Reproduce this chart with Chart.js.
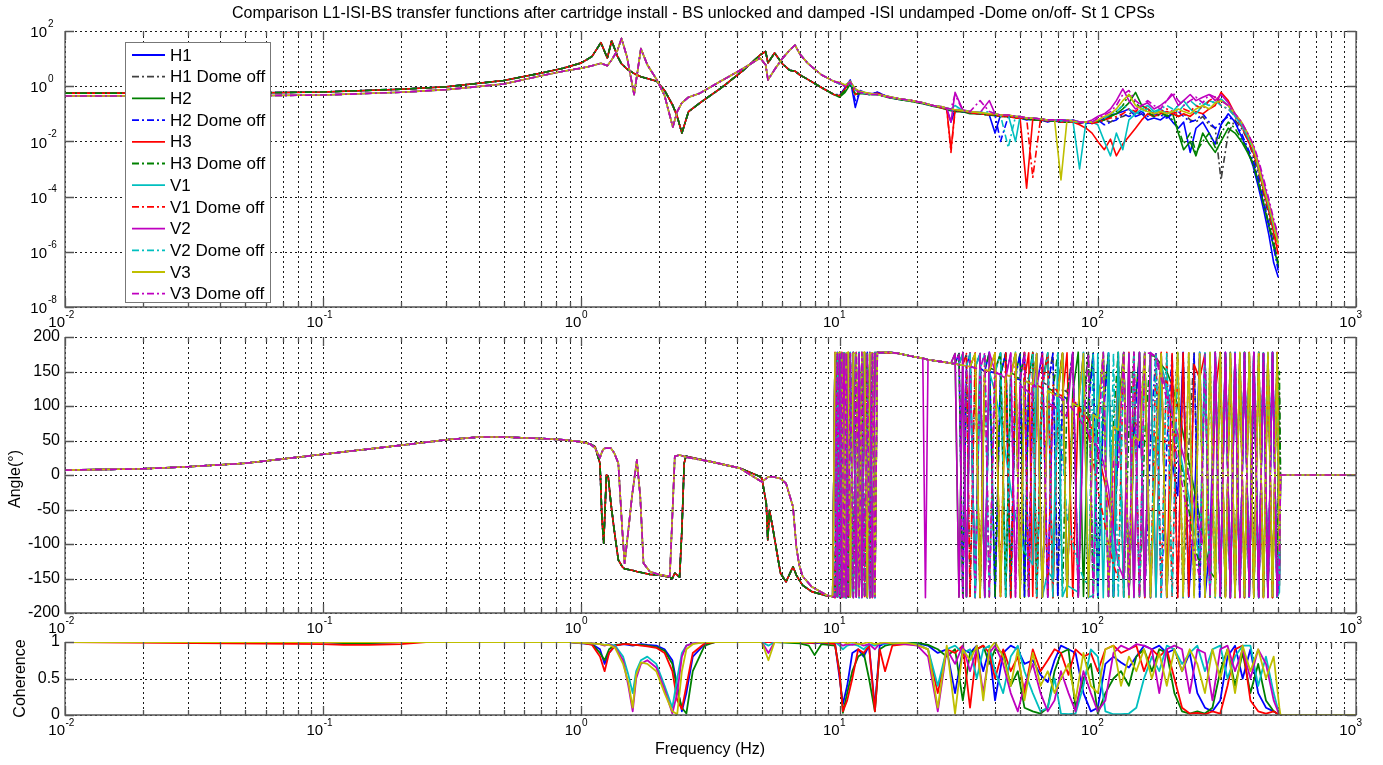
<!DOCTYPE html>
<html>
<head>
<meta charset="utf-8">
<script src="https://cdn.jsdelivr.net/npm/chart.js@4.4.1/dist/chart.umd.min.js"></script>
<style>
  html, body { margin: 0; padding: 0; background: #fff; overflow: hidden; }
  #wrap { position: relative; width: 1383px; height: 765px; }
  canvas { position: absolute; left: 0; top: 0; }
</style>
</head>
<body>
<div id="wrap">
  <canvas id="magChart" width="1383" height="765"></canvas>
  <canvas id="phaseChart" width="1383" height="765"></canvas>
  <canvas id="cohChart" width="1383" height="765"></canvas>
</div>
<script>
// ---- series ----
const seriesNames = ['H1', 'H1 Dome off', 'H2', 'H2 Dome off', 'H3', 'H3 Dome off',
                     'V1', 'V1 Dome off', 'V2', 'V2 Dome off', 'V3', 'V3 Dome off'];
const seriesFamily = ['H', 'H', 'H', 'H', 'H', 'H', 'V', 'V', 'V', 'V', 'V', 'V'];

// ---- magnitude, below 10 Hz (H and V groups) ----
const freqMagLo = [0.01, 0.05, 0.1, 0.2, 0.3, 0.5, 0.7, 0.85, 1.0, 1.1, 1.19, 1.26, 1.31, 1.38, 1.43,
  1.5, 1.6, 1.7, 1.8, 1.96, 2.1, 2.26, 2.35, 2.45, 2.6, 2.88, 3.5, 4.2, 4.92, 5.17, 5.28, 5.6, 6.0,
  6.4, 6.72, 7.0, 7.5, 8.5, 9.5];
const magLoH = [0.56, 0.57, 0.62, 0.78, 0.95, 1.6, 3.0, 4.5, 7.0, 12, 38, 10.5, 44, 12, 6.5,
  4.2, 2.9, 2.2, 1.9, 1.5, 0.7, 0.2, 0.08, 0.02, 0.12, 0.25, 0.9, 3.5, 13.5, 18, 7, 16, 6.5,
  3.8, 3.5, 2.6, 1.8, 0.9, 0.5];
const magLoV = [0.44, 0.45, 0.48, 0.6, 0.75, 1.2, 2.4, 3.5, 4.5, 5.5, 6.8, 5.5, 9, 20, 54,
  12, 0.5, 23, 6, 1.7, 0.45, 0.033, 0.12, 0.25, 0.4, 0.56, 1.6, 4.2, 10.5, 6, 1.7, 4, 10,
  20, 31, 15, 7, 2.6, 1.5];

// ---- magnitude, 10 Hz and up (one per series) ----
const freqMagHi = [10, 10.5, 11, 11.5, 12, 13, 14, 15.5, 17, 19, 21, 23, 25, 26, 27, 28, 30, 32, 35, 38,
  40, 42, 45, 48, 50, 53, 56, 60, 64, 68, 72, 76, 80, 85, 90, 95, 100, 106, 112, 118,
  125, 132, 140, 148, 156, 165, 175, 185, 195, 205, 215, 228, 240, 255, 270, 285, 300, 320, 340, 360,
  380, 400, 420, 440, 460, 480, 500];
const magHiH1 = [0.45, 0.9, 1.7, 0.17, 0.7, 0.5, 0.6, 0.4, 0.33, 0.3, 0.24, 0.2, 0.17, 0.15, 0.05,
  0.14, 0.12, 0.11, 0.1, 0.09, 0.02, 0.09, 0.08, 0.075, 0.07, 0.06, 0.065, 0.06, 0.05, 0.06,
  0.055, 0.05, 0.06, 0.05, 0.05, 0.045, 0.05, 0.07, 0.09, 0.1, 0.12, 0.15, 0.08, 0.1, 0.06,
  0.07, 0.06, 0.09, 0.05, 0.03, 0.05, 0.004, 0.03, 0.05, 0.02, 0.008, 0.04, 0.1, 0.05, 0.015,
  0.005, 0.0012, 0.0002, 0.00003, 0.000004, 0.0000004, 0.00000012];
const magHiH1off = [0.45, 0.7, 1.3, 0.5, 0.6, 0.5, 0.55, 0.42, 0.35, 0.3, 0.25, 0.2, 0.17, 0.16, 0.15,
  0.13, 0.12, 0.11, 0.1, 0.1, 0.09, 0.08, 0.085, 0.08, 0.07, 0.07, 0.06, 0.065, 0.06, 0.055,
  0.06, 0.05, 0.05, 0.045, 0.05, 0.05, 0.05, 0.06, 0.05, 0.07, 0.08, 0.1, 0.12, 0.09, 0.1,
  0.08, 0.09, 0.1, 0.12, 0.08, 0.1, 0.06, 0.05, 0.08, 0.04, 0.03, 0.0004, 0.02, 0.06, 0.03,
  0.012, 0.003, 0.0006, 0.0001, 0.00002, 0.000003, 0.0000003];
const magHiH2 = [0.4, 0.6, 1.2, 0.5, 0.55, 0.5, 0.5, 0.38, 0.33, 0.28, 0.23, 0.19, 0.16, 0.14, 0.13,
  0.12, 0.12, 0.1, 0.1, 0.09, 0.085, 0.08, 0.08, 0.075, 0.07, 0.065, 0.06, 0.06, 0.06, 0.055,
  0.06, 0.06, 0.05, 0.05, 0.05, 0.05, 0.05, 0.06, 0.08, 0.1, 0.15, 0.25, 0.6, 0.2, 0.15,
  0.1, 0.12, 0.08, 0.1, 0.02, 0.005, 0.01, 0.003, 0.02, 0.008, 0.004, 0.01, 0.03, 0.02, 0.01,
  0.004, 0.0015, 0.0003, 0.00005, 0.000008, 0.0000015, 0.0000003];
const magHiH2off = [0.5, 0.8, 1.5, 0.3, 0.6, 0.5, 0.6, 0.4, 0.34, 0.3, 0.24, 0.2, 0.18, 0.15, 0.14,
  0.13, 0.12, 0.11, 0.1, 0.1, 0.09, 0.01, 0.08, 0.08, 0.07, 0.07, 0.065, 0.06, 0.06, 0.055,
  0.05, 0.055, 0.05, 0.05, 0.045, 0.05, 0.06, 0.04, 0.05, 0.06, 0.1, 0.08, 0.1, 0.12, 0.08,
  0.1, 0.09, 0.07, 0.1, 0.12, 0.08, 0.05, 0.06, 0.1, 0.05, 0.03, 0.05, 0.08, 0.05, 0.02,
  0.006, 0.002, 0.0004, 0.00006, 0.00001, 0.0000015, 0.0000002];
const magHiH3 = [0.45, 0.8, 1.5, 0.5, 0.6, 0.5, 0.55, 0.4, 0.35, 0.3, 0.25, 0.2, 0.16, 0.15, 0.005,
  0.14, 0.13, 0.11, 0.1, 0.09, 0.09, 0.08, 0.08, 0.07, 0.07, 0.0002, 0.065, 0.06, 0.055, 0.06,
  0.05, 0.05, 0.05, 0.04, 0.03, 0.02, 0.01, 0.005, 0.012, 0.003, 0.008, 0.015, 0.03, 0.06, 0.1,
  0.08, 0.1, 0.12, 0.1, 0.08, 0.1, 0.08, 0.12, 0.1, 0.15, 0.2, 0.6, 0.3, 0.1, 0.04,
  0.012, 0.004, 0.001, 0.00015, 0.00003, 0.000005, 0.0000008];
const magHiH3off = [0.45, 0.7, 1.3, 0.5, 0.6, 0.5, 0.5, 0.4, 0.33, 0.28, 0.24, 0.19, 0.17, 0.15, 0.14,
  0.13, 0.12, 0.11, 0.1, 0.09, 0.09, 0.08, 0.08, 0.075, 0.07, 0.065, 0.06, 0.06, 0.055, 0.055,
  0.05, 0.05, 0.055, 0.05, 0.05, 0.05, 0.055, 0.06, 0.08, 0.12, 0.2, 0.5, 0.25, 0.15, 0.12,
  0.08, 0.1, 0.09, 0.06, 0.03, 0.008, 0.02, 0.004, 0.01, 0.02, 0.006, 0.02, 0.05, 0.03, 0.012,
  0.005, 0.0015, 0.0003, 0.00005, 0.00001, 0.000002, 0.0000004];
const magHiV1 = [1.3, 1.1, 1.5, 0.8, 0.6, 0.55, 0.5, 0.42, 0.35, 0.3, 0.25, 0.2, 0.18, 0.16, 0.15,
  0.2, 0.13, 0.12, 0.11, 0.1, 0.1, 0.09, 0.09, 0.01, 0.08, 0.07, 0.07, 0.065, 0.06, 0.06,
  0.06, 0.055, 0.06, 0.001, 0.05, 0.05, 0.04, 0.01, 0.003, 0.02, 0.005, 0.06, 0.1, 0.15, 0.2,
  0.12, 0.15, 0.1, 0.12, 0.2, 0.3, 0.15, 0.1, 0.2, 0.3, 0.25, 0.35, 0.2, 0.08, 0.04,
  0.015, 0.006, 0.0012, 0.0002, 0.00004, 0.000008, 0.000002];
const magHiV1off = [1.2, 1.0, 1.4, 0.7, 0.6, 0.55, 0.5, 0.4, 0.35, 0.3, 0.25, 0.2, 0.17, 0.16, 0.004,
  0.13, 0.13, 0.11, 0.1, 0.1, 0.09, 0.09, 0.08, 0.08, 0.07, 0.07, 0.0005, 0.065, 0.06, 0.06,
  0.055, 0.06, 0.05, 0.05, 0.05, 0.045, 0.05, 0.06, 0.07, 0.08, 0.1, 0.15, 0.12, 0.2, 0.15,
  0.1, 0.12, 0.15, 0.12, 0.1, 0.15, 0.12, 0.2, 0.15, 0.3, 0.4, 0.2, 0.15, 0.08, 0.035,
  0.012, 0.004, 0.0009, 0.00015, 0.00003, 0.000006, 0.0000015];
const magHiV2 = [1.3, 1.0, 1.4, 0.8, 0.6, 0.55, 0.5, 0.42, 0.35, 0.3, 0.25, 0.2, 0.18, 0.16, 0.05,
  0.6, 0.14, 0.12, 0.11, 0.3, 0.1, 0.09, 0.09, 0.08, 0.08, 0.07, 0.07, 0.065, 0.06, 0.06,
  0.06, 0.06, 0.055, 0.05, 0.05, 0.06, 0.08, 0.1, 0.15, 0.3, 0.8, 0.3, 0.15, 0.2, 0.25,
  0.15, 0.2, 0.3, 0.5, 0.2, 0.3, 0.5, 0.3, 0.4, 0.5, 0.3, 0.5, 0.25, 0.1, 0.05,
  0.02, 0.007, 0.0015, 0.0003, 0.00006, 0.000012, 0.000003];
const magHiV2off = [1.2, 1.1, 1.3, 0.7, 0.6, 0.5, 0.5, 0.4, 0.35, 0.3, 0.25, 0.2, 0.17, 0.16, 0.14,
  0.15, 0.13, 0.12, 0.11, 0.12, 0.1, 0.09, 0.006, 0.08, 0.08, 0.07, 0.07, 0.065, 0.06, 0.06,
  0.055, 0.06, 0.05, 0.05, 0.05, 0.05, 0.06, 0.07, 0.1, 0.12, 0.2, 0.15, 0.1, 0.12, 0.15,
  0.1, 0.15, 0.2, 0.15, 0.12, 0.2, 0.3, 0.2, 0.25, 0.2, 0.3, 0.2, 0.15, 0.08, 0.04,
  0.015, 0.005, 0.001, 0.0002, 0.00004, 0.000008, 0.000002];
const magHiV3 = [1.4, 1.1, 1.5, 0.8, 0.65, 0.55, 0.5, 0.42, 0.35, 0.3, 0.25, 0.2, 0.18, 0.16, 0.15,
  0.14, 0.13, 0.12, 0.11, 0.1, 0.1, 0.09, 0.09, 0.08, 0.08, 0.07, 0.07, 0.065, 0.06, 0.06,
  0.0004, 0.06, 0.055, 0.05, 0.05, 0.05, 0.06, 0.08, 0.1, 0.15, 0.3, 0.5, 0.2, 0.15, 0.12,
  0.1, 0.12, 0.1, 0.12, 0.15, 0.12, 0.1, 0.15, 0.2, 0.15, 0.25, 0.3, 0.2, 0.1, 0.05,
  0.02, 0.006, 0.0012, 0.0002, 0.00005, 0.00001, 0.000002];
const magHiV3off = [1.3, 1.0, 1.4, 0.7, 0.6, 0.5, 0.5, 0.4, 0.35, 0.3, 0.25, 0.2, 0.17, 0.16, 0.15,
  0.5, 0.13, 0.12, 0.3, 0.12, 0.1, 0.09, 0.09, 0.08, 0.08, 0.07, 0.07, 0.065, 0.06, 0.06,
  0.06, 0.055, 0.06, 0.05, 0.05, 0.05, 0.07, 0.09, 0.12, 0.2, 0.5, 0.7, 0.3, 0.2, 0.3,
  0.2, 0.15, 0.3, 0.6, 0.3, 0.2, 0.3, 0.4, 0.25, 0.5, 0.4, 0.3, 0.2, 0.1, 0.05,
  0.02, 0.008, 0.002, 0.0004, 0.00008, 0.000015, 0.000004];

// ---- phase, below 10 Hz (H and V groups) ----
const freqPhLo = [0.01, 0.02, 0.03, 0.05, 0.1, 0.2, 0.3, 0.4, 0.5, 0.69, 0.85, 1.0, 1.08, 1.13, 1.18,
  1.2, 1.22, 1.25, 1.27, 1.3, 1.34, 1.39, 1.44, 1.47, 1.52, 1.57, 1.64, 1.69, 1.74, 1.84,
  1.98, 2.2, 2.25, 2.3, 2.4, 2.45, 2.5, 2.54, 3.2, 4.1, 4.9, 5.0, 5.2, 5.27, 5.35,
  5.5, 5.9, 6.2, 6.6, 6.8, 6.97, 7.2, 7.8, 8.9, 9.4];
const phLoH = [7, 9, 12, 17, 30, 43, 51, 55, 55, 53, 51, 48, 45, 41, 17,
  -60, -99, 0, -2, -40, -80, -123, -133, -136, -137, -138, -140, -141, -142, -144,
  -145, -148, -150, -142, -148, -80, 17, 27, 19, 10, -2, -5, -41, -94, -51,
  -75, -142, -155, -133, -145, -152, -160, -169, -175, -176];
const phLoV = [7, 9, 12, 17, 30, 43, 51, 55, 55, 53, 51, 48, 45, 39, 25,
  33, 38, 39, 39, 39, 32, 17, -80, -128, -80, -31, 22, -31, -128, -140,
  -144, -147, -60, 27, 29, 28, 27, 26, 19, 10, -8, -10, -5, -3, -2.5,
  -2.5, -5, -12, -46, -104, -130, -147, -162, -174, -176];

// ---- phase, from 9.6 Hz up (one per series) ----
const freqPhHi = [9.6, 9.8, 10.0, 10.2, 10.4, 10.6, 10.8, 11.0, 11.3, 11.6, 11.9, 12.2, 12.5, 12.8, 13.1,
  13.4, 13.7, 14.0, 14.3, 15.5, 17, 19, 21, 21.5, 22, 23, 24, 25, 26, 27,
  28, 29, 30, 31, 32, 33.5, 35, 36.5, 38, 40, 42, 44, 46, 48, 50,
  52, 54, 56, 58, 61, 64, 67, 70, 73, 76, 80, 84, 88, 92, 96,
  100, 105, 110, 115, 120, 126, 132, 138, 145, 152, 160, 168, 176, 185, 194,
  204, 214, 225, 236, 248, 260, 272, 285, 298, 312, 326, 340, 355, 370, 386,
  402, 420, 438, 456, 475, 495, 505, 510, 1000];
const phHiH1 = [177, -176, 178, -177, 176, -178, 177, -175, 176, -177, 178, -176, 177, -178, 176,
  -177, 176, 178, 177, 178, 176, 172, 169, 168, 167, 166, 165, 164, 163, 162,
  161, 176, -177, 158, 176, -176, 155, 150, 178, -177, 145, 176, -178, 140, 138,
  177, -176, 132, 128, 178, -177, 120, 115, 176, -175, 105, 100, 177, -178, 90,
  85, 176, -176, 70, 60, 177, -177, 50, 40, 178, -176, 30, 176, -178, 20,
  -30, 177, -176, -60, 178, -177, -100, 176, -178, 177, -176, 178, -175, 176, -177,
  177, -178, 176, -176, 178, -177, -150, 0, 0];
const phHiH1off = [-176, 177, -178, 176, -177, 178, -176, 177, -175, 176, -177, 178, -176, 177, -178,
  176, -177, 177, 178, 178, 176, 172, 169, 168, 167, 166, 165, 164, 163, 162,
  161, 160, 159, 176, -177, 156, 176, -176, 152, 150, 176, -177, 146, 177, -176,
  142, 140, 176, -178, 135, 130, 177, -176, 125, 120, 176, -177, 110, 178, -176,
  100, 95, 176, -177, 85, 178, -176, 75, 70, 177, -178, 60, 176, -177, 50,
  178, -176, 40, 177, -178, 176, -177, 178, -176, 177, -178, 176, -177, 178, -176,
  177, -178, 176, -177, 178, -176, 120, 0, 0];
const phHiH2 = [176, -177, 178, -176, 177, -178, 176, -177, 178, -176, 177, -175, 176, -178, 177,
  -176, 178, 176, 177, 178, 176, 172, 169, 168, 167, 166, 165, 164, 163, 162,
  176, -177, 178, -176, 177, -178, 176, -177, 155, 152, 177, -176, 148, 145, 176,
  -177, 140, 178, -176, 135, 177, -178, 128, 176, -177, 120, 178, -176, 110, 177,
  -178, 100, 176, -177, 90, 177, -176, 80, 178, -177, 176, 170, 160, 150, 130,
  100, 60, 20, -20, -60, -100, -140, -150, 177, -176, 178, -177, 176, -178, 177,
  -176, 178, -177, 176, -178, 177, -140, 0, 0];
const phHiH2off = [-177, 178, -176, 177, -178, 176, -177, 178, -176, 177, -178, 176, -177, 178, -176,
  177, -178, 176, 178, 178, 176, 172, 169, 168, 167, 166, 165, 164, 163, 162,
  161, 160, 176, -176, 158, 155, 176, -177, 150, 148, 145, 177, -176, 140, 176,
  -178, 135, 130, 177, -176, 125, 176, -177, 115, 110, 178, -176, 100, 95, 176,
  -177, 85, 177, -178, 70, 176, -177, 60, 177, -176, 50, 178, -177, 40, 176,
  -176, 178, -177, 177, -178, 176, -176, 177, -177, 178, -178, 176, -176, 177, -177,
  178, -176, 177, -178, 176, -177, -100, 0, 0];
const phHiH3 = [178, -176, 177, -178, 176, -177, 178, -176, 177, -175, 176, -177, 178, -176, 177,
  -178, 176, 177, 178, 177, 176, 172, 169, 168, 167, 166, 165, 164, 163, 162,
  161, 160, 176, -177, 157, 176, -178, 152, 150, 177, -176, 145, 143, 176, -177,
  138, 177, -176, 130, 126, 176, -178, 118, 114, 177, -176, 100, 90, 80, 60,
  30, 0, -40, -80, 177, -176, 178, -177, 176, -178, 177, -176, 178, -177, 176,
  -178, 177, -176, 160, 140, 176, -177, 120, 178, -176, 177, -178, 176, -177, 178,
  -176, 177, -178, 176, -177, 178, -160, 0, 0];
const phHiH3off = [-177, 176, -178, 177, -176, 178, -177, 176, -178, 177, -176, 178, -177, 176, -178,
  177, -176, 178, 177, 178, 176, 172, 169, 168, 167, 166, 165, 164, 163, 162,
  161, 176, -176, 159, 157, 176, -177, 153, 177, -178, 147, 176, -177, 142, 140,
  177, -176, 134, 176, -178, 126, 122, 177, -176, 112, 176, -177, 102, 177, -178,
  92, 176, -176, 80, 178, -177, 68, 176, -178, 58, 176, 165, 150, 120, 80,
  40, 0, -50, -100, -130, 177, -176, 178, -177, 176, -178, 177, -176, 178, -177,
  176, -178, 177, -176, 178, -177, 150, 0, 0];
const phHiV1 = [176, -177, 178, -176, 177, -178, 176, -177, 178, -176, 177, -178, 176, -177, 178,
  -176, 177, 176, 178, 178, 176, 172, 169, 168, 167, 166, 165, 164, 163, 162,
  161, 160, 176, -177, 157, 155, 176, -178, 150, 120, 80, 30, -20, -60, -90,
  -110, -120, -130, 176, -177, -140, -150, 177, -176, -160, -165, -170, 178, -177, -175,
  176, -178, 177, -176, 178, -177, 176, -178, 177, -176, 178, -177, 160, 130, 90,
  50, 10, -30, -80, -120, 177, -176, 178, -177, 176, -178, 177, -176, 178, -177,
  176, -178, 177, -176, 178, -177, -170, 0, 0];
const phHiV1off = [-178, 177, -176, 178, -177, 176, -178, 177, -176, 178, -177, 176, -178, 177, -176,
  178, -177, 178, 177, 178, 176, 172, 169, 168, 167, 166, 165, 164, 163, 162,
  161, 160, 159, 176, -177, 177, -178, 176, -177, 178, -176, 177, -178, 176, -177,
  178, -176, 177, -178, 176, -177, 130, 120, 178, -176, 110, 100, 80, 60, 20,
  -20, -60, -100, -130, -150, 177, -176, 178, -177, 176, -178, 177, -176, 178, -177,
  176, -178, 177, -176, 178, -177, 176, -178, 177, -176, 178, -177, 176, -178, 177,
  -176, 178, -177, 176, -178, 177, -130, 0, 0];
const phHiV2 = [177, -176, 178, -177, 176, -178, 177, -176, 178, -177, 176, -178, 177, -176, 178,
  -177, 176, 177, 178, 178, 176, 172, 169, -178, 167, 166, 165, 164, 163, 162,
  176, -177, 178, -176, 177, -178, 176, -177, 178, 150, 145, 140, 177, -176, 130,
  125, 120, 115, 176, -177, 105, 100, 95, 90, 85, 178, -177, 75, 60, 50,
  40, 20, -20, -80, -130, -150, 176, -177, 178, -176, 177, 172, 150, 120, 90,
  60, 30, 0, -40, -80, -110, -140, 177, -176, 178, -177, 176, -178, 177, -176,
  178, -177, 176, -178, 177, -176, -100, 0, 0];
const phHiV2off = [-176, 178, -177, 176, -178, 177, -176, 178, -177, 176, -178, 177, -176, 178, -177,
  176, -178, 178, 177, 178, 176, 172, 169, 168, 167, 166, 165, 164, 163, 162,
  161, 160, 159, 158, 176, -177, 154, 176, -178, 148, 177, -176, 142, 178, -177,
  136, 133, 176, -176, 125, 177, -178, 115, 30, -60, -100, -130, -150, -160, 176,
  -177, 178, -176, 177, -178, 176, -177, 178, -176, 177, -178, 176, -177, 178, -176,
  177, -178, 176, -177, 178, -176, 177, -178, 176, -177, 178, -176, 177, -178, 176,
  -177, 178, -176, 177, -178, 176, -160, 0, 0];
const phHiV3 = [177, 176, 178, 177, -176, 176, 178, -177, 176, 177, -176, 177, 178, -177, 176,
  177, -176, 177, 178, 178, 176, 172, 169, 168, 167, 166, 165, 164, 163, 162,
  161, 160, 159, 158, 157, 176, -177, 153, 151, 177, -176, 145, 143, 177, -178,
  137, 134, 130, 176, -177, 122, 118, 114, 177, -176, 104, 99, 176, -177, 88,
  82, 177, -176, 70, 65, 176, -178, 55, 50, 177, -176, 40, 176, -177, 30,
  178, -176, 177, -178, 176, -177, 178, -176, 177, -178, 176, -177, 178, -176, 177,
  -178, 176, -177, 178, -176, 177, -110, 0, 0];
const phHiV3off = [-177, 176, -178, 177, -176, 178, -177, 176, -178, 177, -176, 178, -177, 176, -178,
  177, -176, 178, 177, 178, 176, 172, 169, 168, 167, 166, 165, 164, 163, 162,
  161, 176, -178, 158, 157, 155, 153, 177, -176, 148, 146, 144, 176, -177, 138,
  178, -176, 130, 127, 176, -177, 118, 115, 110, 105, 95, 85, 70, 176, -177,
  40, 178, -176, 20, 10, 177, -176, 178, -177, 176, 177, 168, 140, 110, 70,
  20, -20, -70, -110, -150, 176, -177, 178, -176, 177, -178, 176, -177, 178, -176,
  177, -178, 176, -177, 178, -176, -150, 0, 0];

// ---- coherence ----
const freqCoh = [0.01, 0.1, 0.12, 0.15, 0.2, 0.25, 0.5, 0.9, 1.0, 1.1, 1.18, 1.23, 1.28, 1.35, 1.45,
  1.52, 1.58, 1.63, 1.7, 1.8, 1.95, 2.1, 2.25, 2.35, 2.45, 2.55, 2.7, 3.0, 3.3, 5.0,
  5.3, 5.6, 7.0, 7.6, 8.0, 8.5, 9.6,
  10.0, 10.3, 10.7, 11.2, 11.8, 12.4, 13.0, 13.7, 14.3, 15, 16, 18, 20, 22, 24,
  26, 28, 30, 32, 34, 36, 38, 40, 43, 46, 49, 52, 56, 60, 64,
  68, 72, 77, 82, 88, 94, 100, 107, 115, 123, 132, 141, 151, 162, 173,
  185, 198, 212, 227, 243, 260, 278, 298, 318, 340, 364, 390, 418, 448, 480,
  505, 510, 1000];
const cohH1 = [1, 1, 0.99, 0.99, 1, 1, 1, 1, 0.98, 0.97, 0.9, 0.7, 0.85, 0.95, 0.97,
  0.96, 0.95, 0.96, 0.97, 0.96, 0.95, 0.9, 0.75, 0.4, 0.05, 0.3, 0.8, 0.97, 1, 1,
  1, 1, 1, 0.99, 0.98, 0.99, 0.98,
  0.5, 0.15, 0.4, 0.85, 0.9, 0.8, 0.95, 0.1, 0.95, 0.98, 0.97, 0.99, 0.98, 0.95, 0.85,
  0.9, 0.3, 0.9, 0.85, 0.95, 0.6, 0.9, 0.2, 0.85, 0.95, 0.9, 0.7, 0.75, 0.55, 0.45,
  0.75, 0.95, 0.9, 0.85, 0.3, 0.05, 0.1, 0.7, 0.8, 0.72, 0.65, 0.8, 0.95, 0.9, 0.95,
  0.85, 0.9, 0.6, 0.85, 0.3, 0.1, 0.05, 0.2, 0.8, 0.95, 0.5, 0.9, 0.3, 0.1, 0.05,
  0, 0, 0];
const cohH2 = [1, 1, 0.985, 0.985, 1, 1, 1, 1, 0.99, 0.97, 0.85, 0.75, 0.9, 0.96, 0.97,
  0.97, 0.96, 0.96, 0.96, 0.95, 0.93, 0.88, 0.7, 0.35, 0.1, 0.02, 0.6, 0.95, 1, 1,
  1, 1, 0.98, 0.95, 0.82, 0.97, 0.95,
  0.6, 0.03, 0.3, 0.6, 0.8, 0.85, 0.5, 0.05, 0.9, 0.95, 0.97, 0.98, 0.99, 0.96, 0.9,
  0.8, 0.9, 0.2, 0.85, 0.9, 0.95, 0.7, 0.9, 0.85, 0.4, 0.6, 0.1, 0.05, 0.02, 0.1,
  0.6, 0.85, 0.9, 0.1, 0.5, 0.7, 0.02, 0.3, 0.5, 0.6, 0.4, 0.8, 0.9, 0.6, 0.9,
  0.85, 0.3, 0.05, 0.02, 0.05, 0.02, 0.1, 0.6, 0.9, 0.4, 0.85, 0.3, 0.7, 0.2, 0.05,
  0, 0, 0];
const cohH3 = [1, 0.97, 0.96, 0.96, 0.97, 1, 1, 1, 0.99, 0.96, 0.8, 0.6, 0.85, 0.95, 0.97,
  0.97, 0.96, 0.96, 0.95, 0.94, 0.92, 0.85, 0.6, 0.2, 0.08, 0.4, 0.85, 0.98, 1, 1,
  1, 1, 1, 0.99, 0.99, 1, 0.97,
  0.55, 0.05, 0.2, 0.5, 0.9, 0.85, 0.95, 0.05, 0.9, 0.6, 0.95, 0.97, 0.96, 0.9, 0.3,
  0.9, 0.85, 0.95, 0.1, 0.9, 0.95, 0.85, 0.5, 0.9, 0.6, 0.8, 0.3, 0.9, 0.6, 0.75,
  0.9, 0.85, 0.55, 0.9, 0.8, 0.85, 0.6, 0.9, 0.95, 0.85, 0.9, 0.95, 0.6, 0.9, 0.8,
  0.9, 0.5, 0.1, 0.02, 0.03, 0.01, 0.05, 0.02, 0.4, 0.9, 0.95, 0.2, 0.05, 0.02, 0.05,
  0, 0, 0];
const cohV1 = [1, 1, 1, 1, 1, 1, 1, 1, 0.99, 0.98, 0.97, 0.96, 0.97, 0.95, 0.8,
  0.55, 0.3, 0.6, 0.75, 0.8, 0.7, 0.4, 0.1, 0.5, 0.85, 0.95, 0.98, 1, 1, 1,
  0.95, 1, 1, 1, 1, 1, 1,
  0.95, 0.9, 0.95, 0.97, 0.95, 0.9, 0.97, 0.95, 0.98, 0.97, 0.99, 0.98, 0.97, 0.9, 0.4,
  0.9, 0.95, 0.85, 0.9, 0.5, 0.9, 0.95, 0.6, 0.3, 0.8, 0.95, 0.6, 0.3, 0.05, 0.1,
  0.5, 0.02, 0.01, 0.02, 0.4, 0.9, 0.8, 0.05, 0.01, 0.01, 0.02, 0.1, 0.5, 0.8, 0.6,
  0.95, 0.9, 0.7, 0.85, 0.95, 0.6, 0.9, 0.95, 0.5, 0.8, 0.95, 0.95, 0.4, 0.8, 0.3,
  0, 0, 0];
const cohV2 = [1, 1, 1, 1, 1, 1, 1, 1, 0.99, 0.98, 0.97, 0.95, 0.97, 0.93, 0.75,
  0.4, 0.05, 0.5, 0.7, 0.75, 0.65, 0.35, 0.02, 0.3, 0.8, 0.95, 0.98, 1, 1, 1,
  0.85, 1, 1, 1, 1, 1, 1,
  0.98, 0.95, 0.97, 0.96, 0.98, 0.95, 0.97, 0.9, 0.98, 0.99, 0.98, 0.97, 0.95, 0.8, 0.05,
  0.9, 0.7, 0.95, 0.6, 0.9, 0.3, 0.85, 0.95, 0.7, 0.3, 0.05, 0.4, 0.7, 0.3, 0.05,
  0.2, 0.6, 0.3, 0.05, 0.6, 0.3, 0.05, 0.2, 0.85, 0.95, 0.9, 0.97, 0.95, 0.9, 0.3,
  0.9, 0.95, 0.9, 0.3, 0.9, 0.85, 0.2, 0.9, 0.95, 0.6, 0.9, 0.5, 0.9, 0.7, 0.2,
  0, 0, 0];
const cohV3 = [1, 1, 1, 1, 1, 1, 1, 1, 0.99, 0.98, 0.97, 0.96, 0.96, 0.92, 0.7,
  0.45, 0.1, 0.55, 0.72, 0.7, 0.6, 0.3, 0.05, 0.01, 0.6, 0.9, 0.97, 1, 1, 1,
  0.75, 1, 1, 1, 1, 1, 1,
  1, 1, 0.98, 1, 0.97, 0.98, 1, 0.97, 0.98, 1, 0.98, 0.99, 0.96, 0.9, 0.1,
  0.95, 0.02, 0.9, 0.75, 0.95, 0.2, 0.9, 1, 0.8, 0.4, 0.9, 0.2, 0.85, 0.4, 0.6,
  0.3, 0.5, 0.7, 0.2, 0.85, 0.4, 0.3, 0.9, 0.95, 0.4, 0.8, 0.6, 0.9, 0.5, 0.85,
  0.4, 0.9, 0.6, 0.9, 0.7, 0.3, 0.9, 0.5, 0.9, 0.3, 0.95, 0.6, 0.9, 0.5, 0.8,
  0.1, 0, 0];

// ---- styles ----
const DASHDOT = [7, 3, 2, 3];
const seriesStyle = [
  { color: '#0000ff', dash: [] },
  { color: '#404040', dash: DASHDOT },
  { color: '#008000', dash: [] },
  { color: '#0000ff', dash: DASHDOT },
  { color: '#ff0000', dash: [] },
  { color: '#008000', dash: DASHDOT },
  { color: '#00bfbf', dash: [] },
  { color: '#ff0000', dash: DASHDOT },
  { color: '#bf00bf', dash: [] },
  { color: '#00bfbf', dash: DASHDOT },
  { color: '#bfbf00', dash: [] },
  { color: '#bf00bf', dash: DASHDOT }
];
const cohColors = ['#0000ff', '#008000', '#ff0000', '#00bfbf', '#bf00bf', '#bfbf00'];

const FONT = '"Liberation Sans", Arial, Helvetica, sans-serif';
const TITLE = 'Comparison L1-ISI-BS transfer functions after cartridge install - BS unlocked and damped -ISI undamped -Dome on/off- St 1 CPSs';

// log x grid: 1..9 in every decade
function xGridValues() {
  const v = [];
  for (let e = -2; e < 3; e++) {
    for (let m = 1; m < 10; m++) v.push(m * Math.pow(10, e));
  }
  v.push(1000);
  return v;
}

const pts = (f, v) => f.map((fx, i) => ({ x: fx, y: v[i] }));

// MATLAB style grid, box, ticks and labels
const matlabAxes = {
  id: 'matlabAxes',
  beforeDatasetsDraw(chart, args, o) {
    const { ctx, chartArea: a, scales: { x, y } } = chart;
    ctx.save();
    ctx.strokeStyle = '#1a1a1a';
    ctx.lineWidth = 1;
    ctx.setLineDash([2, 3]);
    ctx.beginPath();
    xGridValues().forEach(v => {
      const px = Math.round(x.getPixelForValue(v)) + 0.5;
      ctx.moveTo(px, a.top); ctx.lineTo(px, a.bottom);
    });
    o.yTicks.forEach(v => {
      const py = Math.round(y.getPixelForValue(v)) + 0.5;
      ctx.moveTo(a.left, py); ctx.lineTo(a.right, py);
    });
    ctx.stroke();
    ctx.restore();
  },
  afterDatasetsDraw(chart, args, o) {
    const { ctx, chartArea: a, scales: { x, y } } = chart;
    ctx.save();
    ctx.strokeStyle = '#555';
    ctx.lineWidth = 1.3;
    ctx.beginPath();
    ctx.moveTo(a.left, a.top); ctx.lineTo(a.left, a.bottom);
    ctx.lineTo(a.right, a.bottom); ctx.lineTo(a.right, a.top);
    // x ticks, top and bottom, pointing in
    xGridValues().forEach((v, i) => {
      const px = Math.round(x.getPixelForValue(v)) + 0.5;
      const len = (i % 9 === 0) ? 9 : 5;
      ctx.moveTo(px, a.bottom); ctx.lineTo(px, a.bottom - len);
      ctx.moveTo(px, a.top); ctx.lineTo(px, a.top + len);
    });
    o.yTicks.forEach(v => {
      const py = Math.round(y.getPixelForValue(v)) + 0.5;
      ctx.moveTo(a.left, py); ctx.lineTo(a.left + 9, py);
      ctx.moveTo(a.right, py); ctx.lineTo(a.right - 9, py);
    });
    ctx.stroke();
    ctx.restore();
  },
  afterDraw(chart, args, o) {
    const { ctx, chartArea: a, scales: { x, y } } = chart;
    ctx.save();
    ctx.fillStyle = '#000';
    ctx.textBaseline = 'middle';
    // x tick labels 10^n
    for (let e = -2; e <= 3; e++) {
      const px = x.getPixelForValue(Math.pow(10, e));
      ctx.font = '15px ' + FONT; ctx.textAlign = 'right';
      ctx.fillText('10', px, a.bottom + 16);
      ctx.font = '10px ' + FONT; ctx.textAlign = 'left';
      ctx.fillText(String(e), px + 0.5, a.bottom + 8);
    }
    // y tick labels
    o.yTicks.forEach(v => {
      const py = y.getPixelForValue(v);
      if (o.logY) {
        const e = Math.round(Math.log10(v));
        ctx.font = '15px ' + FONT; ctx.textAlign = 'right';
        ctx.fillText('10', 47, py + 2);
        ctx.font = '10px ' + FONT; ctx.textAlign = 'left';
        ctx.fillText(String(e), 48, py - 7);
      } else {
        ctx.font = '16px ' + FONT; ctx.textAlign = 'right';
        ctx.fillText(String(v), 60, py);
      }
    });
    // y axis title
    if (o.ylabel) {
      ctx.save();
      ctx.translate(o.ylabelX, (a.top + a.bottom) / 2 + (o.ylabelShift || 0));
      ctx.rotate(-Math.PI / 2);
      ctx.font = '16px ' + FONT; ctx.textAlign = 'center';
      ctx.fillText(o.ylabel, 0, 0);
      ctx.restore();
    }
    if (o.xlabel) {
      ctx.font = '16px ' + FONT; ctx.textAlign = 'center';
      ctx.fillText(o.xlabel, 710, 750);
    }
    if (o.title) {
      ctx.font = '16px ' + FONT; ctx.textAlign = 'left';
      ctx.fillText(o.title, 232, 14);
    }
    if (o.legend) {
      ctx.fillStyle = '#fff';
      ctx.fillRect(125.5, 42.5, 145, 260);
      ctx.strokeStyle = '#777'; ctx.lineWidth = 1;
      ctx.strokeRect(125.5, 42.5, 145, 260);
      seriesNames.forEach((name, i) => {
        const yy = 55 + i * 21.7;
        ctx.strokeStyle = seriesStyle[i].color;
        ctx.lineWidth = 1.8;
        ctx.setLineDash(seriesStyle[i].dash);
        ctx.beginPath(); ctx.moveTo(132, yy); ctx.lineTo(165, yy); ctx.stroke();
        ctx.setLineDash([]);
        ctx.fillStyle = '#000';
        ctx.font = '17px ' + FONT; ctx.textAlign = 'left';
        ctx.fillText(name, 170, yy + 1);
      });
    }
    ctx.restore();
  }
};

function makeChart(id, pad, yScale, datasets, axesOpts) {
  return new Chart(document.getElementById(id), {
    type: 'line',
    data: { datasets: datasets },
    options: {
      responsive: false,
      animation: false,
      devicePixelRatio: 1,
      events: [],
      layout: { padding: pad },
      plugins: { legend: { display: false }, tooltip: { enabled: false }, matlabAxes: axesOpts },
      elements: { point: { radius: 0 }, line: { tension: 0, borderJoinStyle: 'round' } },
      scales: {
        x: { type: 'logarithmic', min: 0.01, max: 1000, display: false },
        y: Object.assign({ display: false }, yScale)
      }
    },
    plugins: [matlabAxes]
  });
}

const magHi = [magHiH1, magHiH1off, magHiH2, magHiH2off, magHiH3, magHiH3off,
               magHiV1, magHiV1off, magHiV2, magHiV2off, magHiV3, magHiV3off];
const phHi = [phHiH1, phHiH1off, phHiH2, phHiH2off, phHiH3, phHiH3off,
              phHiV1, phHiV1off, phHiV2, phHiV2off, phHiV3, phHiV3off];
const cohAll = [cohH1, cohH2, cohH3, cohV1, cohV2, cohV3];

const freqMag = freqMagLo.concat(freqMagHi);
const freqPh = freqPhLo.concat(freqPhHi);

const magSets = seriesNames.map((name, i) => ({
  label: name,
  data: pts(freqMag, (seriesFamily[i] === 'H' ? magLoH : magLoV).concat(magHi[i])),
  borderColor: seriesStyle[i].color,
  borderDash: seriesStyle[i].dash,
  borderWidth: 1.6,
  fill: false,
  order: seriesNames.length - i
}));
const phSets = seriesNames.map((name, i) => ({
  label: name,
  data: pts(freqPh, (seriesFamily[i] === 'H' ? phLoH : phLoV).concat(phHi[i])),
  borderColor: seriesStyle[i].color,
  borderDash: seriesStyle[i].dash,
  borderWidth: 1.6,
  fill: false,
  order: seriesNames.length - i
}));
const cohSets = cohAll.map((vals, i) => ({
  label: seriesNames[i * 2],
  data: pts(freqCoh, vals),
  borderColor: cohColors[i],
  borderWidth: 1.8,
  fill: false,
  order: cohAll.length - i
}));

makeChart('magChart', { left: 65, right: 27, top: 31, bottom: 458 },
  { type: 'logarithmic', min: 1e-8, max: 100 }, magSets,
  { yTicks: [1e-8, 1e-6, 1e-4, 1e-2, 1, 100], logY: true, title: TITLE, legend: true });

makeChart('phaseChart', { left: 65, right: 27, top: 337, bottom: 152 },
  { type: 'linear', min: -200, max: 200 }, phSets,
  { yTicks: [-200, -150, -100, -50, 0, 50, 100, 150, 200], ylabel: 'Angle(°)', ylabelX: 16, ylabelShift: 4 });

makeChart('cohChart', { left: 65, right: 27, top: 642, bottom: 50 },
  { type: 'linear', min: 0, max: 1 }, cohSets,
  { yTicks: [0, 0.5, 1], ylabel: 'Coherence', ylabelX: 21, xlabel: 'Frequency (Hz)' });
</script>
</body>
</html>
